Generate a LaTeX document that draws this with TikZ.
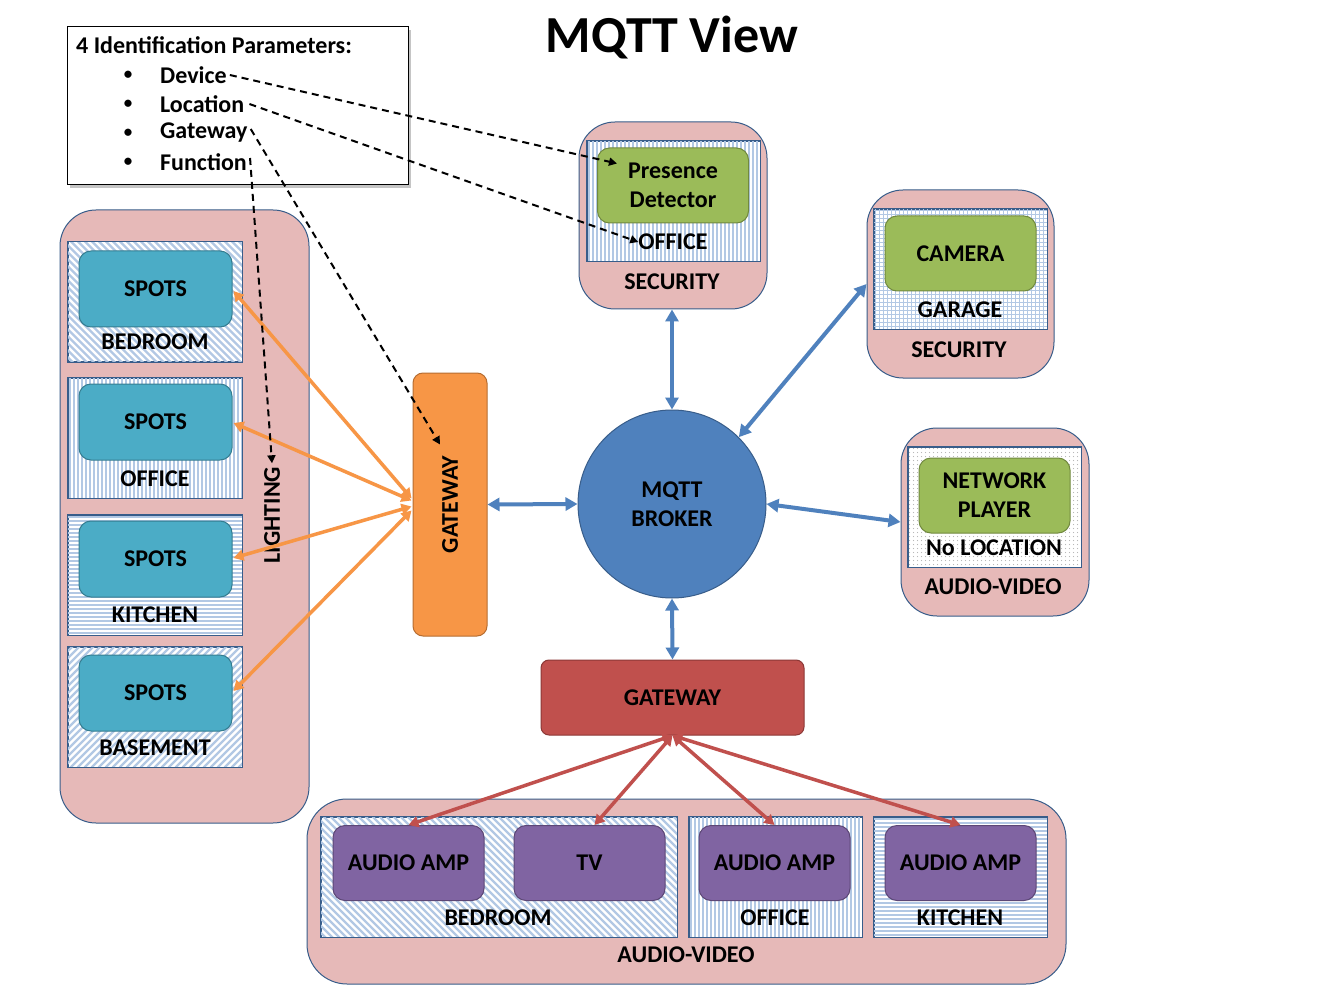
\documentclass[tikz,border=0pt]{standalone}
\usepackage{fontspec}
\setmainfont{Carlito}
\usetikzlibrary{arrows.meta,shadows,calc}
\definecolor{pinkbg}{HTML}{E6B9B8}
\definecolor{bord}{HTML}{385D8A}
\definecolor{patblue}{RGB}{178,200,228}
\definecolor{tealf}{HTML}{4BACC6}
\definecolor{tealb}{HTML}{357D91}
\definecolor{greenf}{HTML}{9BBB59}
\definecolor{greenb}{HTML}{71893F}
\definecolor{purplef}{HTML}{8064A2}
\definecolor{purpleb}{HTML}{5C4776}
\definecolor{orangef}{HTML}{F79646}
\definecolor{orangeb}{HTML}{B66D31}
\definecolor{redf}{HTML}{C0504D}
\definecolor{redb}{HTML}{8C3836}
\definecolor{brokerf}{HTML}{4F81BD}
\definecolor{arrblue}{HTML}{4F81BD}
% hand-drawn fill patterns for the location boxes
\newcommand{\boxborder}[1]{\draw[bord,line width=0.9pt] (#1.north west) rectangle (#1.south east);}
\newcommand{\stripeV}[1]{\begin{scope}\clip (#1.north west) rectangle (#1.south east);
  \foreach \t in {2,6,...,360} \draw[patblue,line width=2pt] ($(#1.north west)+(\t,0)$) -- ($(#1.south west)+(\t,0)$);
  \end{scope}\boxborder{#1}}
\newcommand{\stripeH}[1]{\begin{scope}\clip (#1.north west) rectangle (#1.south east);
  \foreach \t in {2,6,...,126} \draw[patblue,line width=2pt] ($(#1.north west)+(0,\t)$) -- ($(#1.north east)+(0,\t)$);
  \end{scope}\boxborder{#1}}
\newcommand{\stripeD}[1]{\begin{scope}\clip (#1.north west) rectangle (#1.south east);
  \foreach \t in {-130,-123,...,370} \draw[patblue,line width=2.2pt] ($(#1.north west)+(\t,0)$) -- ($(#1.north west)+(\t+130,130)$);
  \end{scope}\boxborder{#1}}
\newcommand{\stripeU}[1]{\begin{scope}\clip (#1.north west) rectangle (#1.south east);
  \foreach \t in {-130,-123,...,370} \draw[patblue,line width=2.2pt] ($(#1.south west)+(\t,0)$) -- ($(#1.south west)+(\t+130,-130)$);
  \end{scope}\boxborder{#1}}
\newcommand{\gridpatfill}[1]{\begin{scope}\clip (#1.north west) rectangle (#1.south east);
  \foreach \t in {2,6,...,178} \draw[patblue,line width=0.7pt] ($(#1.north west)+(\t,0)$) -- ($(#1.south west)+(\t,0)$);
  \foreach \t in {2,6,...,126} \draw[patblue,line width=0.7pt] ($(#1.north west)+(0,\t)$) -- ($(#1.north east)+(0,\t)$);
  \end{scope}\boxborder{#1}}
\newcommand{\dotspat}[1]{\begin{scope}\clip (#1.north west) rectangle (#1.south east);
  \foreach \i in {2,6,...,174} \foreach \j in {2,6,...,122} \fill[black!30] ($(#1.north west)+(\i,\j)$) circle (0.6pt);
  \end{scope}\boxborder{#1}}
\begin{document}
\begin{tikzpicture}[x=1pt,y=-1pt,
  font=\bfseries\fontsize{24}{29}\selectfont,
  outerbox/.style={draw=bord, fill=pinkbg, rounded corners=36pt, line width=1pt, inner sep=0},
  locbox/.style={draw=bord, fill=white, line width=0.9pt, inner sep=0},
  devbox/.style={rounded corners=12pt, line width=1pt, minimum width=151pt, minimum height=75pt, inner sep=0, align=center},
  spots/.style={devbox, draw=tealb, fill=tealf, minimum width=153pt, minimum height=76pt},
  green/.style={devbox, draw=greenb, fill=greenf},
  purple/.style={devbox, draw=purpleb, fill=purplef},
  lbl/.style={inner sep=0, align=center},
  barrow/.style={draw=arrblue, line width=4pt, {Triangle[length=12pt,width=13pt]}-{Triangle[length=12pt,width=13pt]}},
  oarrow/.style={draw=orangef, line width=3.5pt, {Triangle[length=10pt,width=11pt]}-{Triangle[length=10pt,width=11pt]}},
  rarrow/.style={draw=redf, line width=3.5pt, {Triangle[length=10pt,width=11pt]}-{Triangle[length=10pt,width=11pt]}},
  dasharrow/.style={draw=black, line width=2pt, dash pattern=on 7pt off 5pt, -{Triangle[length=8pt,width=8pt]}},
  ptext/.style={anchor=west, inner sep=1pt},
  bullet/.style={font=\bfseries\fontsize{17}{20}\selectfont}
]
\useasboundingbox[fill=white] (0,0) rectangle (1344,1008);

% title
\node[font=\bfseries\fontsize{52}{60}\selectfont] (title) at (672,38) {MQTT View};

% parameters box
\node[draw=black, fill=white, line width=1pt, minimum width=341pt, minimum height=158pt, inner sep=0,
  drop shadow={shadow xshift=3pt, shadow yshift=-3pt, opacity=0.45}] (param) at (237.5,106) {};
\node[ptext] (ptitle) at (75,45) {4 Identification Parameters:};
\node[bullet] (bul1) at (128,75) {\textbullet};
\node[bullet] (bul2) at (128,104) {\textbullet};
\node[bullet] (bul3) at (128,133) {\textbullet};
\node[bullet] (bul4) at (128,162) {\textbullet};
\node[ptext] (pdev) at (159,75) {Device};
\node[ptext] (ploc) at (159,104) {Location};
\node[ptext] (pgw) at (159,133) {Gateway};
\node[ptext] (pfun) at (159,162) {Function};

% lighting
\node[outerbox, minimum width=249pt, minimum height=613pt] (lighting) at (184.5,516.5) {};
\node[locbox, minimum width=174pt, minimum height=120pt] (lbed) at (155,301.5) {};
\stripeD{lbed}
\node[locbox, minimum width=174pt, minimum height=120pt] (loff) at (155,438) {};
\stripeV{loff}
\node[locbox, minimum width=174pt, minimum height=120pt] (lkit) at (155,575) {};
\stripeH{lkit}
\node[locbox, minimum width=174pt, minimum height=120pt] (lbas) at (155,707) {};
\stripeU{lbas}
\node[spots] (sp1) at (155.5,289) {SPOTS};
\node[spots] (sp2) at (155.5,422) {SPOTS};
\node[spots] (sp3) at (155.5,559) {SPOTS};
\node[spots] (sp4) at (155.5,693) {SPOTS};
\node[lbl] (lbedt) at (155,342) {BEDROOM};
\node[lbl] (lofft) at (155,479) {OFFICE};
\node[lbl] (lkitt) at (155,615) {KITCHEN};
\node[lbl] (lbast) at (155,748) {BASEMENT};
\node[rotate=90] (lightlbl) at (272,515) {LIGHTING};

% orange gateway
\node[draw=orangeb, fill=orangef, rounded corners=10pt, line width=1pt, minimum width=74pt, minimum height=263pt, inner sep=0] (orgw) at (450,504.5) {};
\node[rotate=90] (orgwt) at (450,504.5) {GATEWAY};

% broker
\node[circle, draw=bord, fill=brokerf, line width=1pt, minimum size=188pt, inner sep=0, align=center] (broker) at (672,504) {MQTT\\BROKER};

% security top
\node[outerbox, minimum width=188pt, minimum height=187pt] (secout) at (673,215.5) {};
\node[locbox, minimum width=173pt, minimum height=120pt] (secin) at (673.5,201) {};
\stripeV{secin}
\node[green] (pres) at (673,185.5) {Presence\\Detector};
\node[lbl] (secoff) at (673,242) {OFFICE};
\node[lbl] (sect) at (672,282) {SECURITY};

% camera
\node[outerbox, minimum width=187pt, minimum height=188pt] (camout) at (960.5,284) {};
\node[locbox, minimum width=173pt, minimum height=120pt] (camin) at (960.5,269) {};
\gridpatfill{camin}
\node[green] (cam) at (960.5,253.5) {CAMERA};
\node[lbl] (camloc) at (960,310) {GARAGE};
\node[lbl] (camt) at (959,350) {SECURITY};

% network player
\node[outerbox, minimum width=188pt, minimum height=188pt] (netout) at (995,522) {};
\node[locbox, minimum width=173pt, minimum height=120pt] (netin) at (994.5,507) {};
\dotspat{netin}
\node[green] (net) at (994.5,495.5) {NETWORK\\PLAYER};
\node[lbl] (netloc) at (994,548) {No LOCATION};
\node[lbl] (nett) at (993,587) {AUDIO-VIDEO};

% red gateway
\node[draw=redb, fill=redf, rounded corners=8pt, line width=1pt, minimum width=263pt, minimum height=75pt, inner sep=0] (redgw) at (672.5,697.5) {GATEWAY};

% audio-video bottom
\node[outerbox, rounded corners=40pt, minimum width=759pt, minimum height=185pt] (avout) at (686.5,891.5) {};
\node[locbox, minimum width=356pt, minimum height=120pt] (avbed) at (499,877) {};
\stripeD{avbed}
\node[locbox, minimum width=173pt, minimum height=120pt] (avoff) at (775.5,877) {};
\stripeV{avoff}
\node[locbox, minimum width=173pt, minimum height=120pt] (avkit) at (960.5,877) {};
\stripeH{avkit}
\node[purple] (amp1) at (408.5,863) {AUDIO AMP};
\node[purple] (tv) at (589.5,863) {TV};
\node[purple] (amp2) at (774.5,863) {AUDIO AMP};
\node[purple] (amp3) at (960.5,863) {AUDIO AMP};
\node[lbl] (avbedt) at (498,918) {BEDROOM};
\node[lbl] (avofft) at (775,918) {OFFICE};
\node[lbl] (avkitt) at (960,918) {KITCHEN};
\node[lbl] (avt) at (686,955) {AUDIO-VIDEO};

% blue connectors
\draw[barrow] (broker.north) -- (broker.north |- secout.south);
\draw[barrow] (broker.45) -- (camout.west);
\draw[barrow] (broker.east) -- (netout.west);
\draw[barrow] (orgw.east) -- (broker.west);
\draw[barrow] (broker.south) -- (redgw.north);

% orange connectors
\draw[oarrow] ($(orgw.west)+(-1,-6)$) -- ($(sp1.east)+(1,2)$);
\draw[oarrow] ($(orgw.west)+(-1,-4)$) -- ($(sp2.east)+(1,1)$);
\draw[oarrow] ($(orgw.west)+(-1,2)$) -- ($(sp3.east)+(1,-1)$);
\draw[oarrow] ($(orgw.west)+(-1,6)$) -- ($(sp4.east)+(1,-2)$);

% red connectors
\draw[rarrow] (redgw.south) -- (amp1.north);
\draw[rarrow] (redgw.south) -- ($(tv.north)+(5,0)$);
\draw[rarrow] (redgw.south) -- (amp2.north);
\draw[rarrow] (redgw.south) -- (amp3.north);

% dashed connectors
\draw[dasharrow] ($(pdev.east)+(2,0)$) -- ($(pres.west)+(20,-22)$);
\draw[dasharrow] ($(ploc.east)+(4,0)$) -- (secoff.west);
\draw[dasharrow] ($(pgw.east)+(2,-4)$) -- ($(orgw.center)+(-10,-60)$);
\draw[dasharrow] ($(pfun.east)+(2,-4)$) -- (lightlbl.east);
\end{tikzpicture}
\end{document}
